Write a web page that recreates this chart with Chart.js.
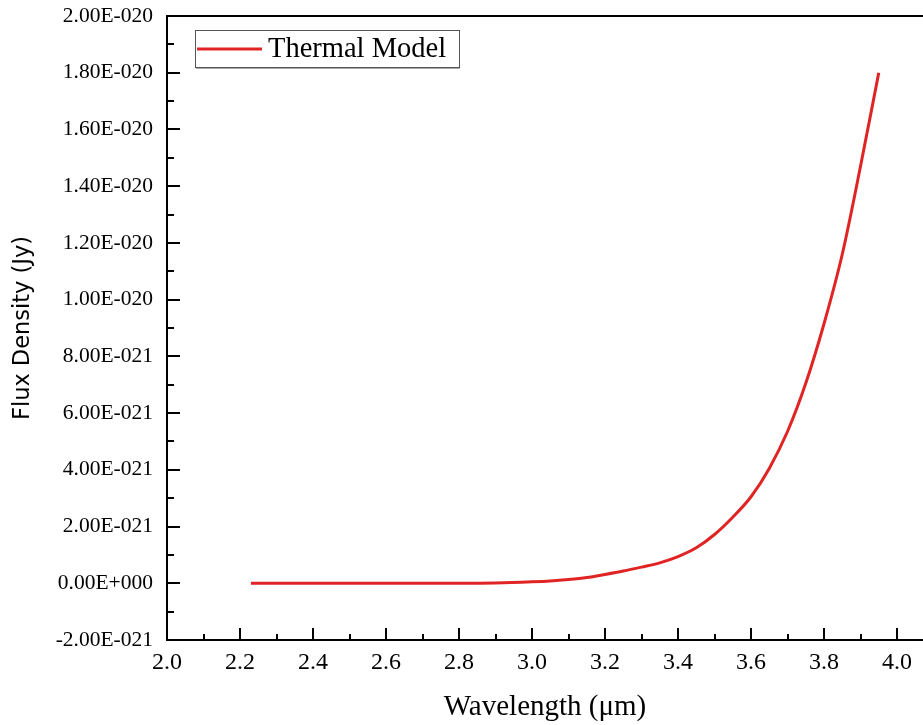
<!DOCTYPE html>
<html>
<head>
<meta charset="utf-8">
<script src="https://cdn.jsdelivr.net/npm/chart.js@4"></script>
<style>
  html, body { margin: 0; padding: 0; background: #fff; }
  #wrap { width: 923px; height: 725px; }
</style>
</head>
<body>
<div id="wrap"><canvas id="myChart" width="923" height="725"></canvas></div>
<script>
// wavelength in micron, flux density in Jy
const wavelength = [2.23, 2.4, 2.6, 2.8, 2.9, 3.0, 3.05, 3.1, 3.15, 3.2, 3.25, 3.3, 3.35, 3.4, 3.45, 3.5, 3.55, 3.6, 3.65, 3.7, 3.75, 3.8, 3.85, 3.9, 3.95];
const flux = [0, 0, 0, 0, 0.01e-21, 0.05e-21, 0.08e-21, 0.13e-21, 0.2e-21, 0.31e-21, 0.43e-21, 0.57e-21, 0.72e-21, 0.94e-21, 1.25e-21, 1.72e-21, 2.33e-21, 3.05e-21, 4.05e-21, 5.35e-21, 7.05e-21, 9.15e-21, 11.6e-21, 14.7e-21, 18.0e-21];
const seriesName = "Thermal Model";
const xTitle = "Wavelength (\u03bcm)";
const yTitle = "Flux Density (Jy)";

const red = "#e02424";

function sciLabel(v) {
    if (Math.abs(v) < 1e-30) return "0.00E+000";
    let s = v.toExponential(2).toUpperCase();   // e.g. 2.00E-20
    let parts = s.split("E");
    let e = parseInt(parts[1]);
    let sign = e < 0 ? "-" : "+";
    return parts[0] + "E" + sign + String(Math.abs(e)).padStart(3, "0");
}

// inward ticks, top frame, and boxed legend
const framePlugin = {
    id: "frame",
    afterDraw(chart) {
        const ctx = chart.ctx;
        const a = chart.chartArea;
        const xs = chart.scales.x, ys = chart.scales.y;
        ctx.save();
        ctx.strokeStyle = "#000";
        ctx.lineWidth = 2;
        ctx.beginPath();
        ctx.moveTo(a.left, a.top);
        ctx.lineTo(a.right, a.top);
        ctx.stroke();

        ys.ticks.forEach(t => {
            const major = Math.round(t.value / 1e-21) % 2 === 0;
            const py = Math.round(ys.getPixelForValue(t.value));
            ctx.beginPath();
            ctx.moveTo(a.left, py);
            ctx.lineTo(a.left + (major ? 13 : 7), py);
            ctx.stroke();
        });
        xs.ticks.forEach(t => {
            const major = Math.round(t.value * 10) % 2 === 0;
            const px = Math.round(xs.getPixelForValue(t.value));
            ctx.beginPath();
            ctx.moveTo(px, a.bottom);
            ctx.lineTo(px, a.bottom - (major ? 12 : 6));
            ctx.stroke();
        });

        // legend
        const lx = 195, ly = 30, lw = 264, lh = 37;
        ctx.lineWidth = 1;
        ctx.strokeStyle = "#555";
        ctx.strokeRect(lx + 0.5, ly + 0.5, lw, lh);
        ctx.strokeStyle = "#aaa";
        ctx.beginPath();
        ctx.moveTo(lx + 1, ly + lh + 1.5);
        ctx.lineTo(lx + lw + 1, ly + lh + 1.5);
        ctx.stroke();
        const ds = chart.data.datasets[0];
        ctx.strokeStyle = ds.borderColor;
        ctx.lineWidth = 3;
        ctx.beginPath();
        ctx.moveTo(lx + 2, ly + 19);
        ctx.lineTo(lx + 67, ly + 19);
        ctx.stroke();
        ctx.fillStyle = "#000";
        ctx.font = "28.5px 'Liberation Serif'";
        ctx.textBaseline = "middle";
        ctx.fillText(ds.label, lx + 73, ly + 20);
        ctx.restore();
    }
};

const ctx = document.getElementById("myChart");

new Chart(ctx, {
    type: "line",
    data: {
        datasets: [{
            label: seriesName,
            data: wavelength.map((w, i) => ({ x: w, y: flux[i] })),
            borderColor: red,
            borderWidth: 3,
            pointRadius: 0,
            fill: false,
            cubicInterpolationMode: "monotone"
        }]
    },
    options: {
        responsive: false,
        animation: false,
        layout: { padding: { top: 16, left: 0, right: 0, bottom: 0 } },
        plugins: {
            legend: { display: false },
            tooltip: { enabled: false }
        },
        scales: {
            x: {
                type: "linear",
                min: 2.0,
                max: 4.0712,
                grid: { display: false, drawTicks: false },
                border: { display: true, color: "#000", width: 2 },
                ticks: {
                    stepSize: 0.1,
                    includeBounds: false,
                    autoSkip: false,
                    maxRotation: 0,
                    padding: 8,
                    color: "#000",
                    font: { family: "Liberation Serif", size: 24 },
                    callback: v => (Math.round(v * 10) % 2 === 0 ? v.toFixed(1) : "")
                },
                title: {
                    display: true,
                    text: xTitle,
                    color: "#000",
                    font: { family: "Liberation Serif", size: 29 },
                    padding: { top: 12, bottom: 0 }
                },
                afterFit: s => { s.height = 85; s.paddingLeft = 0; s.paddingRight = 0; }
            },
            y: {
                min: -2e-21,
                max: 2e-20,
                grid: { display: false, drawTicks: false },
                border: { display: true, color: "#000", width: 2 },
                ticks: {
                    stepSize: 1e-21,
                    autoSkip: false,
                    padding: 14,
                    color: "#000",
                    font: { family: "Liberation Serif", size: 21.5 },
                    callback: v => (Math.round(v / 1e-21) % 2 === 0 ? sciLabel(v) : "")
                },
                title: {
                    display: true,
                    text: yTitle,
                    color: "#000",
                    font: { family: "DejaVu Sans", size: 22.5 },
                    padding: { top: 10, bottom: 0 }
                },
                afterFit: s => { s.width = 167; s.paddingTop = 0; s.paddingBottom = 0; }
            }
        }
    },
    plugins: [framePlugin]
});
</script>
</body>
</html>
